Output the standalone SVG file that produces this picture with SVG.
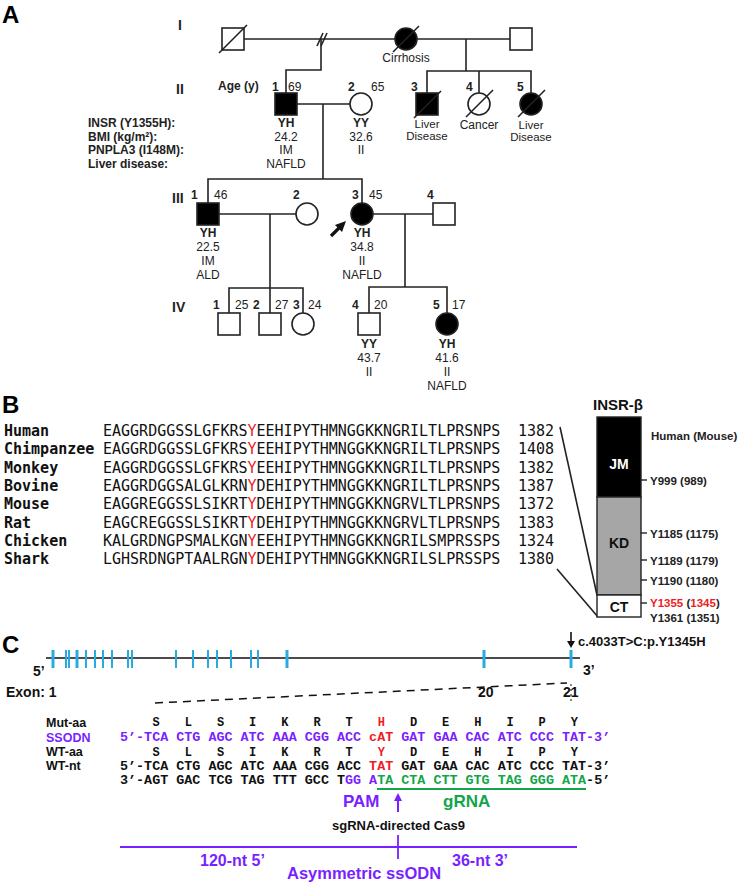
<svg xmlns="http://www.w3.org/2000/svg" width="740" height="885" viewBox="0 0 740 885">
<style>
.ln{stroke:#222;stroke-width:1.6;fill:none}
.sym{stroke:#222;stroke-width:1.6}
.f{fill:#000}.o{fill:#fff}
.t{font-family:"Liberation Sans",Arial,sans-serif;font-size:12px;fill:#222}
.b{font-weight:bold}
.c{text-anchor:middle}
.gen{font-size:14px;font-weight:bold}
.sm{font-size:11.5px}
.pl{font-family:"Liberation Sans",Arial,sans-serif;font-weight:bold;font-size:24px;fill:#000}
.mono{font-family:"DejaVu Sans Mono",monospace;font-size:15px;fill:#111}
.seq{font-family:"Liberation Mono","Courier New",monospace;font-size:13.4px;font-weight:bold;fill:#111}
.aa{font-size:12px}
.pur{fill:#7a1fff}.red{fill:#ee1c25}.grn{fill:#12a54a}
.exon{stroke:#29abe2;stroke-width:2}
.exk{stroke:#29abe2;stroke-width:3}
</style>

<!-- Panel letters -->
<text class="pl" x="2" y="23">A</text>
<text class="pl" x="2" y="413">B</text>
<text class="pl" x="2" y="653">C</text>

<!-- Generation labels -->
<g id="gen-labels">
<text class="t gen" x="178" y="30">I</text>
<text class="t gen" x="176" y="94">II</text>
<text class="t gen" x="172" y="203">III</text>
<text class="t gen" x="172" y="312">IV</text>
<text class="t b" x="218" y="90">Age (y)</text>
<text class="t b" x="88" y="127">INSR (Y1355H):</text>
<text class="t b" x="88" y="140.5">BMI (kg/m²):</text>
<text class="t b" x="88" y="154">PNPLA3 (I148M):</text>
<text class="t b" x="88" y="167.5">Liver disease:</text>
</g>

<!-- Connectors -->
<g id="connectors">
<line class="ln" x1="244" y1="39" x2="395" y2="39"/>
<line class="ln" x1="317" y1="46" x2="323" y2="33"/>
<line class="ln" x1="321" y1="46" x2="327" y2="33"/>
<line class="ln" x1="417" y1="39" x2="510" y2="39"/>
<polyline class="ln" points="466,39 466,71"/>
<polyline class="ln" points="427,93 427,71 531,71 531,93"/>
<line class="ln" x1="479" y1="71" x2="479" y2="93"/>
<polyline class="ln" points="321,39 321,70 286,70 286,93"/>
<line class="ln" x1="297" y1="104" x2="350" y2="104"/>
<line class="ln" x1="323" y1="104" x2="323" y2="179"/>
<polyline class="ln" points="208,203 208,179 362,179 362,203"/>
<line class="ln" x1="219" y1="214" x2="296" y2="214"/>
<line class="ln" x1="270" y1="214" x2="270" y2="313"/>
<polyline class="ln" points="229,313 229,288 303,288 303,313"/>
<line class="ln" x1="373" y1="214" x2="433" y2="214"/>
<line class="ln" x1="405" y1="214" x2="405" y2="287"/>
<polyline class="ln" points="369,313 369,287 447,287 447,313"/>
<!-- proband arrow -->
<line x1="331" y1="236" x2="340" y2="227" stroke="#111" stroke-width="3.2"/>
<polygon points="346,221 335,225 342,232" fill="#111"/>
</g>

<!-- Generation I -->
<g id="I-1">
<rect class="sym o" x="222" y="28" width="22" height="22"/>
<line class="ln" x1="219" y1="53" x2="247" y2="25"/>
</g>
<g id="I-2">
<circle class="sym f" cx="406" cy="39" r="11"/>
<line class="ln" x1="393" y1="52" x2="419" y2="26"/>
<text class="t c" x="406" y="62">Cirrhosis</text>
</g>
<g id="I-3">
<rect class="sym o" x="510" y="28" width="22" height="22"/>
</g>

<!-- Generation II -->
<g id="II-1">
<rect class="sym f" x="275" y="93" width="22" height="22"/>
<text class="t b" x="272" y="91">1</text>
<text class="t" x="288" y="91">69</text>
<text class="t b c" x="286" y="127">YH</text>
<text class="t c" x="286" y="140.5">24.2</text>
<text class="t c" x="286" y="154">IM</text>
<text class="t c" x="286" y="167.5">NAFLD</text>
</g>
<g id="II-2">
<circle class="sym o" cx="361" cy="104" r="11"/>
<text class="t b" x="348" y="91">2</text>
<text class="t" x="371" y="91">65</text>
<text class="t b c" x="361" y="127">YY</text>
<text class="t c" x="361" y="140.5">32.6</text>
<text class="t c" x="361" y="154">II</text>
</g>
<g id="II-3">
<rect class="sym f" x="416" y="93" width="22" height="22"/>
<line class="ln" x1="414" y1="118" x2="441" y2="91"/>
<text class="t b" x="411" y="91">3</text>
<text class="t c sm" x="427" y="127.5">Liver</text>
<text class="t c sm" x="427" y="140">Disease</text>
</g>
<g id="II-4">
<circle class="sym o" cx="479" cy="104" r="11"/>
<line class="ln" x1="466" y1="117" x2="493" y2="90"/>
<text class="t b" x="466" y="91">4</text>
<text class="t c" x="479" y="129">Cancer</text>
</g>
<g id="II-5">
<circle class="sym f" cx="531" cy="104" r="11"/>
<line class="ln" x1="518" y1="117" x2="545" y2="90"/>
<text class="t b" x="517" y="91">5</text>
<text class="t c sm" x="531" y="128.5">Liver</text>
<text class="t c sm" x="531" y="141">Disease</text>
</g>

<!-- Generation III -->
<g id="III-1">
<rect class="sym f" x="197" y="203" width="22" height="22"/>
<text class="t b" x="191" y="199">1</text>
<text class="t" x="214" y="199">46</text>
<text class="t b c" x="208" y="237">YH</text>
<text class="t c" x="208" y="251">22.5</text>
<text class="t c" x="208" y="265">IM</text>
<text class="t c" x="208" y="279">ALD</text>
</g>
<g id="III-2">
<circle class="sym o" cx="307" cy="214" r="11"/>
<text class="t b" x="293" y="199">2</text>
</g>
<g id="III-3">
<circle class="sym f" cx="362" cy="214" r="11"/>
<text class="t b" x="352" y="199">3</text>
<text class="t" x="369" y="199">45</text>
<text class="t b c" x="362" y="237">YH</text>
<text class="t c" x="362" y="251">34.8</text>
<text class="t c" x="362" y="265">II</text>
<text class="t c" x="362" y="279">NAFLD</text>
</g>
<g id="III-4">
<rect class="sym o" x="433" y="203" width="22" height="22"/>
<text class="t b" x="427" y="199">4</text>
</g>

<!-- Generation IV -->
<g id="IV-1">
<rect class="sym o" x="218" y="313" width="22" height="22"/>
<text class="t b" x="213" y="309">1</text>
<text class="t" x="235" y="309">25</text>
</g>
<g id="IV-2">
<rect class="sym o" x="259" y="313" width="22" height="22"/>
<text class="t b" x="253" y="309">2</text>
<text class="t" x="275" y="309">27</text>
</g>
<g id="IV-3">
<circle class="sym o" cx="303" cy="324" r="11"/>
<text class="t b" x="293" y="309">3</text>
<text class="t" x="308" y="309">24</text>
</g>
<g id="IV-4">
<rect class="sym o" x="358" y="313" width="22" height="22"/>
<text class="t b" x="352" y="309">4</text>
<text class="t" x="374" y="309">20</text>
<text class="t b c" x="369" y="348">YY</text>
<text class="t c" x="369" y="362">43.7</text>
<text class="t c" x="369" y="376">II</text>
</g>
<g id="IV-5">
<circle class="sym f" cx="447" cy="324" r="11"/>
<text class="t b" x="433" y="309">5</text>
<text class="t" x="452" y="309">17</text>
<text class="t b c" x="447" y="348">YH</text>
<text class="t c" x="447" y="362">41.6</text>
<text class="t c" x="447" y="376">II</text>
<text class="t c" x="447" y="390">NAFLD</text>
</g>

<!-- Panel B alignment -->
<g id="alignment">
<g class="mono">
<text x="4" y="436" font-weight="bold">Human</text>
<text x="4" y="454.3" font-weight="bold">Chimpanzee</text>
<text x="4" y="472.6" font-weight="bold">Monkey</text>
<text x="4" y="490.9" font-weight="bold">Bovine</text>
<text x="4" y="509.2" font-weight="bold">Mouse</text>
<text x="4" y="527.5" font-weight="bold">Rat</text>
<text x="4" y="545.8" font-weight="bold">Chicken</text>
<text x="4" y="564.1" font-weight="bold">Shark</text>

<text x="103" y="436">EAGGRDGGSSLGFKRS<tspan class="red">Y</tspan>EEHIPYTHMNGGKKNGRILTLPRSNPS</text>
<text x="103" y="454.3">EAGGRDGGSSLGFKRS<tspan class="red">Y</tspan>EEHIPYTHMNGGKKNGRILTLPRSNPS</text>
<text x="103" y="472.6">EAGGRDGGSSLGFKRS<tspan class="red">Y</tspan>EEHIPYTHMNGGKKNGRILTLPRSNPS</text>
<text x="103" y="490.9">EAGGRDGGSALGLKRN<tspan class="red">Y</tspan>DEHIPYTHMNGGKKNGRILTLPRSNPS</text>
<text x="103" y="509.2">EAGGREGGSSLSIKRT<tspan class="red">Y</tspan>DEHIPYTHMNGGKKNGRVLTLPRSNPS</text>
<text x="103" y="527.5">EAGCREGGSSLSIKRT<tspan class="red">Y</tspan>DEHIPYTHMNGGKKNGRVLTLPRSNPS</text>
<text x="103" y="545.8">KALGRDNGPSMALKGN<tspan class="red">Y</tspan>EEHIPYTHMNGGKKNGRILSMPRSSPS</text>
<text x="103" y="564.1">LGHSRDNGPTAALRGN<tspan class="red">Y</tspan>DEHIPYTHMNGGKKNGRILSLPRSSPS</text>

<text x="518" y="436">1382</text>
<text x="518" y="454.3">1408</text>
<text x="518" y="472.6">1382</text>
<text x="518" y="490.9">1387</text>
<text x="518" y="509.2">1372</text>
<text x="518" y="527.5">1383</text>
<text x="518" y="545.8">1324</text>
<text x="518" y="564.1">1380</text>
</g>
<line class="ln" x1="560" y1="427" x2="597" y2="595"/>
<line class="ln" x1="557" y1="569" x2="598" y2="617"/>
</g>

<!-- INSR-beta domain bar -->
<g id="insr-beta">
<text class="t b c" x="618" y="410" style="font-size:15px;fill:#111">INSR-β</text>
<rect x="597" y="417" width="44" height="80" fill="#000" stroke="#222" stroke-width="1.4"/>
<rect x="597" y="497" width="44" height="98" fill="#a6a6a6" stroke="#222" stroke-width="1.4"/>
<rect x="597" y="595" width="44" height="22" fill="#fff" stroke="#222" stroke-width="1.4"/>
<text class="t b c" x="619" y="469" style="font-size:14px;fill:#fff">JM</text>
<text class="t b c" x="619" y="548" style="font-size:14px;fill:#111">KD</text>
<text class="t b c" x="619" y="612" style="font-size:14px;fill:#111">CT</text>
<g stroke="#222" stroke-width="1.4">
<line x1="641" y1="480" x2="647" y2="480"/>
<line x1="641" y1="533" x2="647" y2="533"/>
<line x1="641" y1="560" x2="647" y2="560"/>
<line x1="641" y1="580" x2="647" y2="580"/>
<line x1="641" y1="603" x2="647" y2="603"/>
</g>
<g>
<text class="t b" x="651" y="440" style="font-size:11.5px">Human (Mouse)</text>
<text class="t b" x="650" y="485" style="font-size:11.5px">Y999 (989)</text>
<text class="t b" x="650" y="538" style="font-size:11.5px">Y1185 (1175)</text>
<text class="t b" x="650" y="565" style="font-size:11.5px">Y1189 (1179)</text>
<text class="t b" x="650" y="585" style="font-size:11.5px">Y1190 (1180)</text>
<text class="t b" x="650" y="607" style="font-size:11.5px"><tspan class="red">Y1355</tspan> (<tspan class="red">1345</tspan>)</text>
<text class="t b" x="650" y="622" style="font-size:11.5px">Y1361 (1351)</text>
</g>
</g>

<!-- Panel C gene map -->
<g id="gene-map">
<line x1="46" y1="658" x2="580" y2="658" stroke="#111" stroke-width="1.6"/>
<g>
<line class="exk" x1="53" y1="650" x2="53" y2="668"/>
<line class="exon" x1="66" y1="650" x2="66" y2="668"/>
<line class="exon" x1="69" y1="650" x2="69" y2="668"/>
<line class="exk" x1="77" y1="650" x2="77" y2="668"/>
<line class="exon" x1="86" y1="650" x2="86" y2="668"/>
<line class="exon" x1="95" y1="650" x2="95" y2="668"/>
<line class="exon" x1="103" y1="650" x2="103" y2="668"/>
<line class="exon" x1="112" y1="650" x2="112" y2="668"/>
<line class="exon" x1="128" y1="650" x2="128" y2="668"/>
<line class="exon" x1="132" y1="650" x2="132" y2="668"/>
<line class="exon" x1="176" y1="650" x2="176" y2="668"/>
<line class="exon" x1="193" y1="650" x2="193" y2="668"/>
<line class="exon" x1="208" y1="650" x2="208" y2="668"/>
<line class="exon" x1="217" y1="650" x2="217" y2="668"/>
<line class="exon" x1="231" y1="650" x2="231" y2="668"/>
<line class="exon" x1="251" y1="650" x2="251" y2="668"/>
<line class="exon" x1="258" y1="650" x2="258" y2="668"/>
<line class="exk" x1="287" y1="650" x2="287" y2="668"/>
<line class="exk" x1="484" y1="650" x2="484" y2="668"/>
<line class="exk" x1="571" y1="650" x2="571" y2="668"/>
</g>
<text class="t b" x="33" y="676" style="font-size:14px;fill:#111">5’</text>
<text class="t b" x="583" y="675" style="font-size:14px;fill:#111">3’</text>
<text class="t b" x="6" y="697" style="font-size:14px;fill:#111">Exon: 1</text>
<text class="t b" x="478" y="697" style="font-size:14px;fill:#111">20</text>
<text class="t b" x="563" y="697" style="font-size:14px;fill:#111">21</text>
<line x1="571" y1="632" x2="571" y2="642" stroke="#111" stroke-width="1.6"/>
<polygon points="567,641 575,641 571,648" fill="#111"/>
<text class="t b" x="578" y="646" style="font-size:13px;fill:#111">c.4033T&gt;C:p.Y1345H</text>
<line x1="155" y1="703" x2="567" y2="683" stroke="#111" stroke-width="1.5" stroke-dasharray="8 6"/>
<line x1="571" y1="684" x2="571" y2="702" stroke="#111" stroke-width="1" stroke-dasharray="2 3"/>
</g>

<!-- Sequence block -->
<g id="sequences">
<text class="t b" x="46" y="727" style="font-size:12.5px;fill:#111">Mut-aa</text>
<text class="t b" x="46" y="741.5" style="font-size:12.5px;fill:#7a1fff">SSODN</text>
<text class="t b" x="46" y="756" style="font-size:12.5px;fill:#111">WT-aa</text>
<text class="t b" x="46" y="770" style="font-size:12.5px;fill:#111">WT-nt</text>
<text class="seq aa c" y="726" x="156.2 188.3 220.5 252.7 284.8 317.0 349.2 381.3 413.5 445.7 477.8 510.0 542.2 574.3">SLSIKRT<tspan class="red">H</tspan>DEHIPY</text>
<text class="seq pur" x="120" y="741">5’-TCA CTG AGC ATC AAA CGG ACC <tspan class="red">cAT</tspan> GAT GAA CAC ATC CCC TAT-3’</text>
<text class="seq aa c" y="756" x="156.2 188.3 220.5 252.7 284.8 317.0 349.2 381.3 413.5 445.7 477.8 510.0 542.2 574.3">SLSIKRT<tspan class="red">Y</tspan>DEHIPY</text>
<text class="seq" x="120" y="770">5’-TCA CTG AGC ATC AAA CGG ACC <tspan class="red">TAT</tspan> GAT GAA CAC ATC CCC TAT-3’</text>
<text class="seq" x="120" y="784">3’-AGT GAC TCG TAG TTT GCC T<tspan class="pur">GG A</tspan><tspan class="grn">TA CTA CTT GTG TAG GGG ATA</tspan>-5’</text>
<line x1="377" y1="789" x2="586" y2="789" stroke="#12a54a" stroke-width="2"/>
<text class="t b" x="343" y="807" style="font-size:17px;fill:#7a1fff">PAM</text>
<text class="t b" x="443" y="807" style="font-size:17px;fill:#12a54a">gRNA</text>
<line x1="398" y1="812" x2="398" y2="800" stroke="#7a1fff" stroke-width="2"/>
<polygon points="394,801 402,801 398,793" fill="#7a1fff"/>
<text class="t b" x="332" y="830" style="font-size:13px;fill:#111">sgRNA-directed Cas9</text>
<line x1="120" y1="847" x2="577" y2="847" stroke="#7a1fff" stroke-width="1.8"/>
<line x1="398" y1="835" x2="398" y2="859" stroke="#7a1fff" stroke-width="1.8"/>
<text class="t b" x="200" y="866" style="font-size:16px;fill:#7a1fff">120-nt 5’</text>
<text class="t b" x="452" y="866" style="font-size:16px;fill:#7a1fff">36-nt 3’</text>
<text class="t b" x="287" y="879" style="font-size:16.5px;fill:#7a1fff">Asymmetric ssODN</text>
</g>
</svg>
